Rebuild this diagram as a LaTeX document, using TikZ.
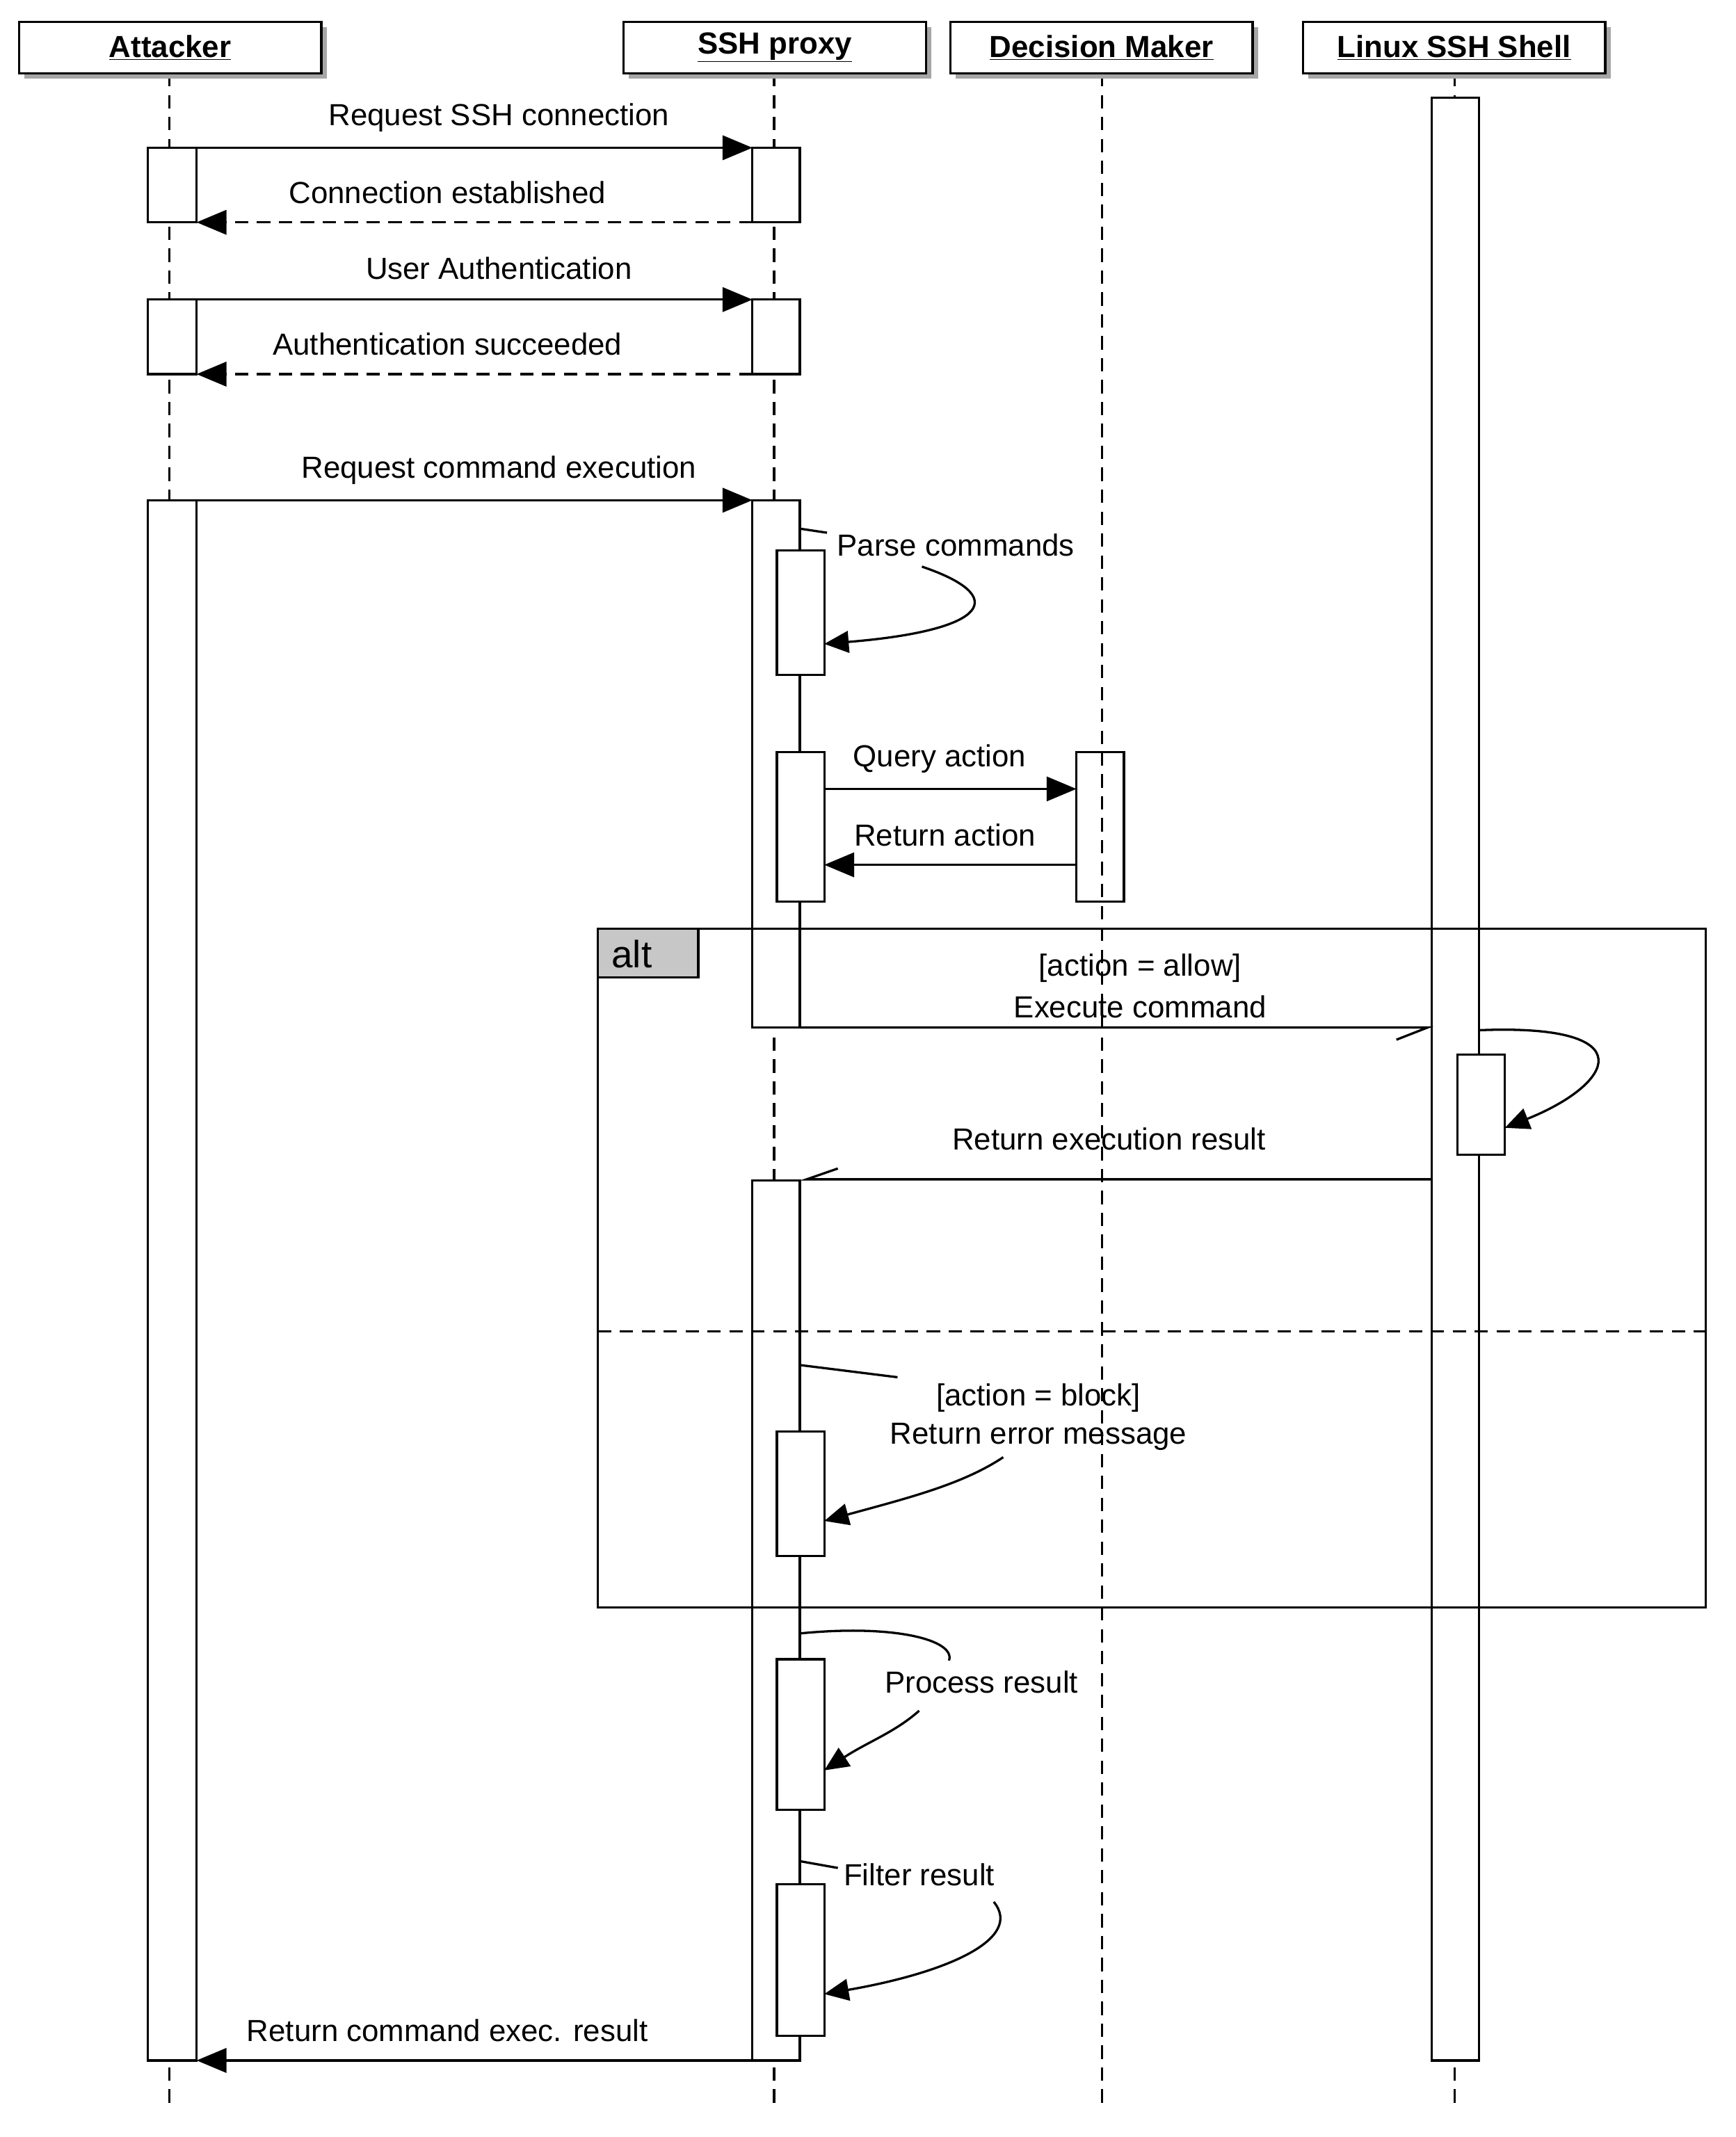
\documentclass[tikz,border=0pt]{standalone}
\usepackage{fontspec}
\setmainfont{Liberation Sans}
\usetikzlibrary{arrows.meta}
\tikzset{
 lw/.style={line width=2.4pt},
 hdr/.style={draw,lw,fill=white,minimum width=11.15cm,minimum height=1.9cm,font=\fontsize{32}{38}\selectfont\bfseries},
 act/.style={draw,lw,fill=white},
 lbl/.style={font=\fontsize{32}{38}\selectfont,inner sep=0pt},
 life/.style={lw,dashed,dash pattern=on 14pt off 9pt},
 msg/.style={lw,-{Triangle[length=1.1cm,width=0.9cm]}},
 rmsg/.style={lw,dashed,dash pattern=on 14pt off 9pt,-{Triangle[length=1.1cm,width=0.9cm]}},
 self/.style={lw,-{Triangle[length=0.9cm,width=0.8cm]}}
}
\newcommand{\hd}[3]{\fill[black!35] (#1+4,20) rectangle (#1+227,58);
 \node[hdr] (#2) at (#1+111.5,35) {\underline{#3}};}
\begin{document}
\begin{tikzpicture}[x=0.05cm,y=-0.05cm]
\useasboundingbox (0,0) rectangle (1280,1576.5);
\fill[white] (0,0) rectangle (1280,1576.5);
% lifelines
\foreach \x in {125,571,813,1073} \draw[life] (\x,54) -- (\x,1552);
\hd{14}{att}{Attacker}
\hd{460}{prx}{SSH proxy}
\hd{701}{dm}{Decision Maker}
\hd{961}{lin}{Linux SSH Shell}
% activations
\draw[act] (1056,72) rectangle (1091,1520);
\draw[act] (109,109) rectangle (145,164);
\draw[act] (109,221) rectangle (145,276);
\draw[act] (109,369) rectangle (145,1520);
\draw[act] (555,109) rectangle (590,164);
\draw[act] (555,221) rectangle (590,276);
\draw[act] (555,369) rectangle (590,758);
\draw[act] (555,871) rectangle (590,1520);
\draw[act] (573,406) rectangle (608,498);
\draw[act] (573,555) rectangle (608,665);
\draw[act] (573,1056) rectangle (608,1148);
\draw[act] (573,1224) rectangle (608,1335);
\draw[act] (573,1390) rectangle (608,1502);
\draw[act,fill=none] (794,555) rectangle (829,665);
\draw[act] (1075,778) rectangle (1110,852);
\draw[life] (813,555) -- (813,665);
% messages
\coordinate (a1) at (145,109); \coordinate (p1) at (555,109);
\draw[msg] (a1) -- (p1);
\node[lbl] (m1) at (368,87) {Request SSH connection};
\coordinate (a2) at (145,164); \coordinate (p2) at (555,164);
\draw[rmsg] (p2) -- (a2);
\node[lbl] (m2) at (330,142) {Connection established};
\coordinate (a3) at (145,221); \coordinate (p3) at (555,221);
\draw[msg] (a3) -- (p3);
\node[lbl] (m3) at (368,198) {User Authentication};
\coordinate (a4) at (145,276); \coordinate (p4) at (555,276);
\draw[rmsg] (p4) -- (a4);
\node[lbl] (m4) at (330,254) {Authentication succeeded};
\coordinate (a5) at (145,369); \coordinate (p5) at (555,369);
\draw[msg] (a5) -- (p5);
\node[lbl] (m5) at (368,347) {Request command execution};
% parse
\draw[lw] (590,390) -- (610,393);
\node[lbl] (m6) at (705,402) {Parse commands};
\draw[self] (680,418) .. controls (745,440) and (730,465) .. (608,475);
% query
\coordinate (q1) at (608,582); \coordinate (q2) at (794,582);
\draw[msg] (q1) -- (q2);
\node[lbl] (m7) at (693,560) {Query action};
\coordinate (r1) at (794,638); \coordinate (r2) at (608,638);
\draw[msg] (r1) -- (r2);
\node[lbl] (m8) at (697,616) {Return action};
% alt frame
\draw[lw] (441,685) rectangle (1258,1186);
\draw[lw,fill=black!22] (441,685) rectangle (515,721);
\node[lbl,font=\fontsize{40}{46}\selectfont,anchor=west] (alt) at (451,704) {alt};
\draw[life] (441,982) -- (1258,982);
% execute
\coordinate (e1) at (590,758); \coordinate (e2) at (1053,758);
\draw[lw] (e1) -- (e2) -- (1030,767);
\node[lbl] (m9) at (841,714) {[action = allow]};
\node[lbl] (m10) at (841,743) {Execute command};
\draw[self] (1091,760) .. controls (1215,755) and (1190,800) .. (1110,832);
% return exec
\coordinate (x1) at (1056,870); \coordinate (x2) at (595,870);
\draw[lw] (x1) -- (x2) -- (618,862);
\node[lbl] (m11) at (818,840) {Return execution result};
% block
\draw[lw] (590,1007) -- (662,1016);
\node[lbl] (m12) at (766,1031) {[action = block]};
\node[lbl] (m13) at (766,1060) {Return error message};
\draw[self] (740,1075) .. controls (710,1095) and (670,1105) .. (608,1122);
% process
\draw[lw] (590,1205) .. controls (660,1198) and (705,1210) .. (700,1225);
\node[lbl] (m14) at (724,1241) {Process result};
\draw[self] (678,1262) .. controls (660,1278) and (640,1285) .. (608,1306);
% filter
\draw[lw] (590,1373) -- (618,1378);
\node[lbl] (m15) at (678,1383) {Filter result};
\draw[self] (733,1403) .. controls (755,1430) and (700,1455) .. (608,1471);
% return final
\coordinate (f1) at (555,1520); \coordinate (f2) at (145,1520);
\draw[msg] (f1) -- (f2);
\node[lbl] (m16) at (330,1498) {Return command exec. result};
\end{tikzpicture}
\end{document}
